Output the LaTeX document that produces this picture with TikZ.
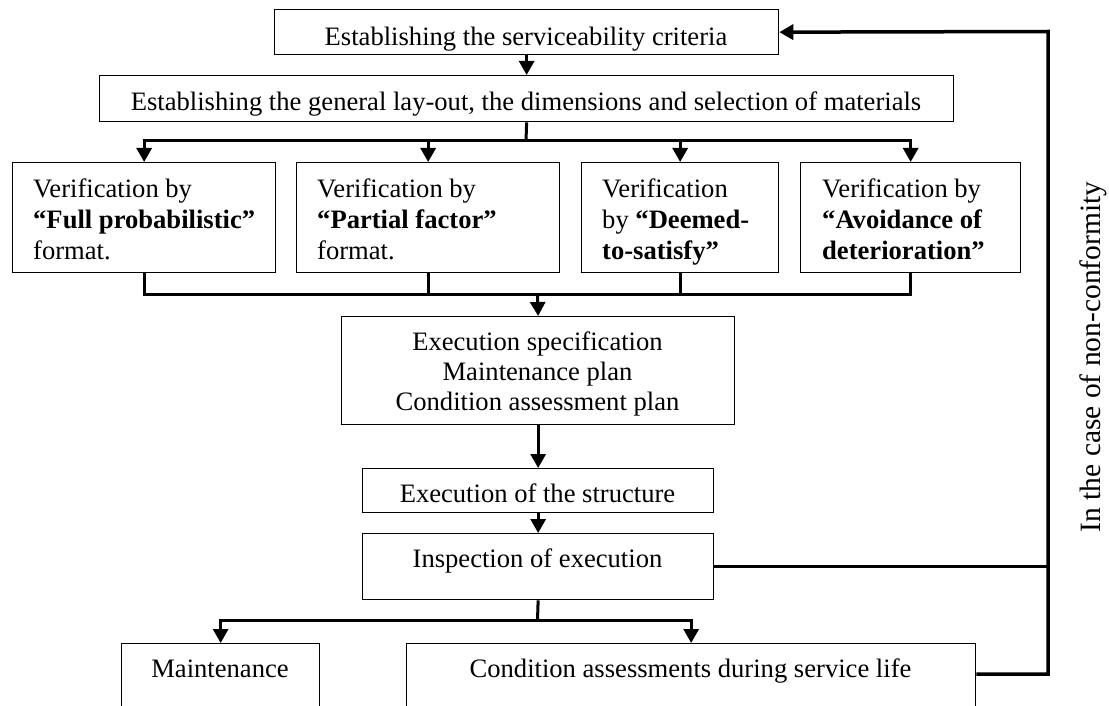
\documentclass[tikz,border=0pt]{standalone}
\usepackage{fontspec}
\setmainfont{Liberation Serif}
\usetikzlibrary{arrows.meta,calc}
\newcommand\myst{\rule{0pt}{20pt}}
\begin{document}
\begin{tikzpicture}[x=1pt,y=-1pt,
  box/.style={draw, line width=1.3pt, inner sep=0pt, anchor=north west},
  txt/.style={inner sep=0pt, font=\fontsize{26.6}{31}\selectfont},
  conn/.style={line width=3pt},
  arr/.style={line width=3pt, -{Triangle[width=15pt,length=14pt]}},
  ]
\useasboundingbox (0,0) rectangle (1109,706);
\clip (0,0) rectangle (1109,706);
% top boxes
\node[box, minimum width=504pt, minimum height=45pt] (b1) at (274,9) {};
\node[txt, anchor=north] (t1) at (526,25) {\myst Establishing the serviceability criteria};
\node[box, minimum width=854pt, minimum height=46pt] (b2) at (99,75) {};
\node[txt, anchor=north] (t2) at (526,90) {\myst Establishing the general lay-out, the dimensions and selection of materials};
% verification boxes
\node[box, minimum width=263pt, minimum height=110pt] (vA) at (12,162) {};
\node[box, minimum width=263pt, minimum height=110pt] (vB) at (296,162) {};
\node[box, minimum width=197pt, minimum height=110pt] (vC) at (581,162) {};
\node[box, minimum width=220pt, minimum height=110pt] (vD) at (800,162) {};
\node[txt, align=left, anchor=north west] (tA) at (33,177) {\myst Verification by\\\textbf{“Full probabilistic”}\\format.};
\node[txt, align=left, anchor=north west] (tB) at (317,177) {\myst Verification by\\\textbf{“Partial factor”}\\format.};
\node[txt, align=left, anchor=north west] (tC) at (602,177) {\myst Verification\\by \textbf{“Deemed-}\\\textbf{to-satisfy”}};
\node[txt, align=left, anchor=north west] (tD) at (822,177) {\myst Verification by\\\textbf{“Avoidance of}\\\textbf{deterioration”}};
% execution spec
\node[box, minimum width=393pt, minimum height=108pt] (es) at (341,316) {};
\node[txt, align=center, anchor=north, font=\fontsize{26.6}{30}\selectfont] (tes) at (537.5,330) {\myst Execution specification\\Maintenance plan\\Condition assessment plan};
\node[box, minimum width=351pt, minimum height=44pt] (ex) at (362,468) {};
\node[txt, anchor=north] (tex) at (537.5,482) {\myst Execution of the structure};
\node[box, minimum width=351pt, minimum height=66pt] (in) at (362,533) {};
\node[txt, anchor=north] (tin) at (537.5,547) {\myst Inspection of execution};
% bottom boxes (cut by the page edge)
\node[box, minimum width=198pt, minimum height=100pt] (mt) at (121,643) {};
\node[txt, anchor=north] (tmt) at (220,657) {\myst Maintenance};
\node[box, minimum width=569pt, minimum height=100pt] (ca) at (406,643) {};
\node[txt, anchor=north] (tca) at (690.5,657) {\myst Condition assessments during service life};
% side label
\node[inner sep=0pt, rotate=90, anchor=base, font=\fontsize{29.5}{34}\selectfont] (nc) at (1100,357) {In the case of non-conformity};
% coordinates
\coordinate (j1) at (526,141);
\coordinate (j2) at (537.5,294);
\coordinate (j3) at (537.5,620);
\coordinate (c5) at ($(ca.north east)+(0,31)$);
\coordinate (rt) at (1048,31.5);
% connectors
\draw[arr] (b1.south) -- (b2.north);
\draw[conn] (b2.south) -- (j1);
\draw[arr] (j1) -| (vA.north);
\draw[arr] (j1) -| (vB.north);
\draw[arr] (j1) -| (vC.north);
\draw[arr] (j1) -| (vD.north);
\draw[conn] (vA.south) |- (j2);
\draw[conn] (vB.south) |- (j2);
\draw[conn] (vC.south) |- (j2);
\draw[conn] (vD.south) |- (j2);
\draw[arr] (j2) -- (es.north);
\draw[arr] (es.south) -- (ex.north);
\draw[arr] (ex.south) -- (in.north);
\draw[conn] (in.south) -- (j3);
\draw[arr] (j3) -| (mt.north);
\draw[arr] (j3) -| (ca.north);
\draw[conn] (in.east) -- (in.east -| rt);
\draw[arr, line width=3.5pt] (c5) -| (rt) -- (b1.east);
\end{tikzpicture}
\end{document}
